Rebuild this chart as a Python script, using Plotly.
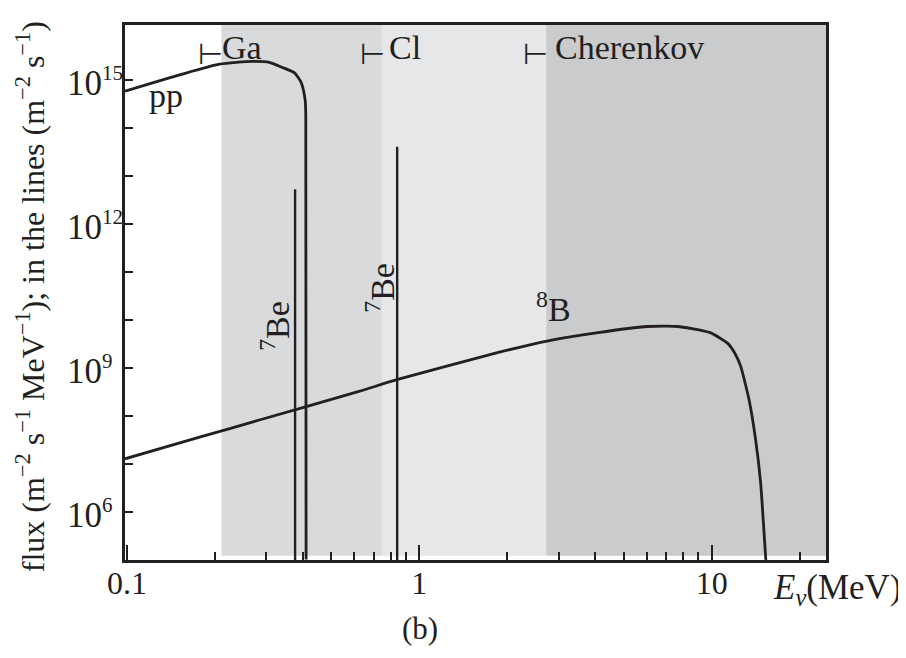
import math
import plotly.graph_objects as go

# ---- data ----
pp_energy = [0.0985, 0.12, 0.1515, 0.2074, 0.2686, 0.3069, 0.3398, 0.3734, 0.3945, 0.4071, 0.409, 0.41]
pp_flux = [5.75e14, 8.3e14, 1.26e15, 2.1e15, 2.4e15, 2.3e15, 1.8e15, 1.4e15, 8.7e14, 3.7e14, 1.8e14, 1e5]

b8_energy = [0.0985, 0.1772, 0.2838, 0.6217, 0.8376, 1.864, 2.759, 4.083, 6.043, 7.07, 7.65,
             8.94, 9.93, 11.32, 12.0, 12.57, 13.42, 14.13, 14.70, 15.29, 15.33]
b8_flux = [1.26e7, 3.55e7, 8.1e7, 3.2e8, 5.6e8, 2.07e9, 3.63e9, 5.37e9, 7.19e9, 7.33e9, 7.19e9,
           6.2e9, 5.3e9, 3.24e9, 2.0e9, 1.06e9, 2.14e8, 3.16e7, 4.0e6, 1.17e5, 9.8e4]

be7_energy = [0.376, 0.84]
be7_flux = [5.2e12, 4.0e13]

detector_names = ["Ga", "Cl", "Cherenkov"]
detector_threshold = [0.2105, 0.745, 2.716]   # start of shaded band (MeV)
detector_marker = [0.193, 0.694, 2.50]        # position of the threshold marker
detector_label_x = [0.212, 0.787, 2.915]      # left edge of the detector label
band_colors = ["#d9dadc", "#e6e7e9", "#cacbcd"]

x_range_mev = [0.0985, 24.6]
y_range_flux = [9.8e4, 1.38e16]
y_major = [1e6, 1e9, 1e12, 1e15]
y_major_exp = ["6", "9", "12", "15"]
y_all_decades = [10.0 ** k for k in range(6, 16)]
x_major = [0.1, 1, 10]
x_major_text = ["0.1", "1", "10"]
x_minor = [0.2, 0.3, 0.4, 0.5, 0.6, 0.7, 0.8, 0.9, 2, 3, 4, 5, 6, 7, 8, 9, 20]

INK = "#231f20"
SERIF = "Liberation Serif, Times New Roman, serif"

fig = go.Figure()

# shaded detector bands
band_edges = detector_threshold + [x_range_mev[1] * 1.05]
for i in range(len(detector_threshold)):
    fig.add_shape(type="rect", xref="x", yref="paper",
                  x0=band_edges[i], x1=band_edges[i + 1], y0=0.008, y1=1,
                  fillcolor=band_colors[i], line_width=0, layer="below")

# pp spectrum
fig.add_trace(go.Scatter(x=pp_energy, y=pp_flux, mode="lines",
                         line=dict(color=INK, width=2.8, shape="spline", smoothing=0.6),
                         hoverinfo="skip"))
# 8B spectrum
fig.add_trace(go.Scatter(x=b8_energy, y=b8_flux, mode="lines",
                         line=dict(color=INK, width=2.8, shape="spline", smoothing=0.5),
                         hoverinfo="skip"))
# 7Be lines
bx, by = [], []
for e, f in zip(be7_energy, be7_flux):
    bx += [e, e, None]
    by += [y_range_flux[0], f, None]
fig.add_trace(go.Scatter(x=bx, y=by, mode="lines",
                         line=dict(color=INK, width=2.4), hoverinfo="skip"))

ann = []
# y tick labels, left-aligned like the original typesetting
for val, ex in zip(y_major, y_major_exp):
    ann.append(dict(x=-0.0855, y=math.log10(val), xref="paper", yref="y",
                    xanchor="left", yanchor="middle", yshift=-2,
                    text="10<sup><span style='font-size:21px'>" + ex + "</span></sup>",
                    showarrow=False, font=dict(family=SERIF, size=35, color=INK)))

# detector labels and threshold markers
for name, lx, mk in zip(detector_names, detector_label_x, detector_marker):
    ann.append(dict(x=math.log10(mk), y=math.log10(3.4e15), xref="x", yref="y",
                    text="⊢", showarrow=False, xanchor="center", yanchor="middle",
                    font=dict(family="DejaVu Sans", size=29, color=INK)))
    ann.append(dict(x=math.log10(lx), y=math.log10(4.6e15), xref="x", yref="y",
                    text=name, showarrow=False, xanchor="left", yanchor="middle", xshift=-2,
                    font=dict(family=SERIF, size=34, color=INK)))

ann.append(dict(x=math.log10(0.136), y=math.log10(4.6e14), xref="x", yref="y", text="pp",
                showarrow=False, xanchor="center", yanchor="middle",
                font=dict(family=SERIF, size=34, color=INK)))
ann.append(dict(x=math.log10(0.319), y=math.log10(7.5e9), xref="x", yref="y",
                text="<sup>7</sup>Be", textangle=-90, showarrow=False,
                xanchor="center", yanchor="middle",
                font=dict(family=SERIF, size=34, color=INK)))
ann.append(dict(x=math.log10(0.733), y=math.log10(4.6e10), xref="x", yref="y",
                text="<sup>7</sup>Be", textangle=-90, showarrow=False,
                xanchor="center", yanchor="middle",
                font=dict(family=SERIF, size=34, color=INK)))
ann.append(dict(x=math.log10(2.87), y=math.log10(1.86e10), xref="x", yref="y",
                text="<sup>8</sup>B", showarrow=False, xanchor="center", yanchor="middle",
                font=dict(family=SERIF, size=34, color=INK)))
# axis titles and caption
ann.append(dict(x=1.111, y=-0.056, xref="paper", yref="paper", xanchor="right", yanchor="middle",
                text="<i>E</i><sub><i>ν</i></sub>(MeV)", showarrow=False,
                font=dict(family=SERIF, size=35, color=INK)))
ann.append(dict(x=0.421, y=-0.128, xref="paper", yref="paper", xanchor="center", yanchor="middle",
                text="(b)", showarrow=False,
                font=dict(family=SERIF, size=31, color=INK)))
ann.append(dict(x=-0.1352, y=0.4916, xref="paper", yref="paper", xanchor="center", yanchor="middle",
                textangle=-90,
                text="flux (m<sup>−2</sup> s<sup>−1</sup> MeV<sup>−1</sup>); in the lines (m<sup>−2</sup> s<sup>−1</sup>)",
                showarrow=False, font=dict(family=SERIF, size=32, color=INK)))

fig.update_layout(
    width=906, height=658,
    # the page body adds an 8 px offset; margins compensate so the plot area sits at 125..826 x 25..560
    margin=dict(l=117, r=88, t=17, b=106),
    paper_bgcolor="white", plot_bgcolor="white",
    showlegend=False,
    annotations=ann,
    font=dict(family=SERIF, color=INK),
    xaxis=dict(type="log", range=[math.log10(v) for v in x_range_mev], automargin=False,
               showgrid=False, zeroline=False,
               showline=True, linecolor=INK, linewidth=2.8, mirror=True,
               ticks="inside", ticklen=15, tickwidth=2.2, tickcolor=INK,
               tickvals=x_major, ticktext=x_major_text, ticklabelstandoff=-7,
               tickfont=dict(family=SERIF, size=32, color=INK),
               minor=dict(ticks="inside", ticklen=8, tickwidth=2.2, tickcolor=INK,
                          tickvals=x_minor, showgrid=False)),
    yaxis=dict(type="log", range=[math.log10(v) for v in y_range_flux], automargin=False,
               showgrid=False, zeroline=False,
               showline=True, linecolor=INK, linewidth=2.8, mirror=True,
               ticks="inside", ticklen=8, tickwidth=2.2, tickcolor=INK,
               tickvals=y_all_decades, showticklabels=False),
)

fig.write_html("out.html")
